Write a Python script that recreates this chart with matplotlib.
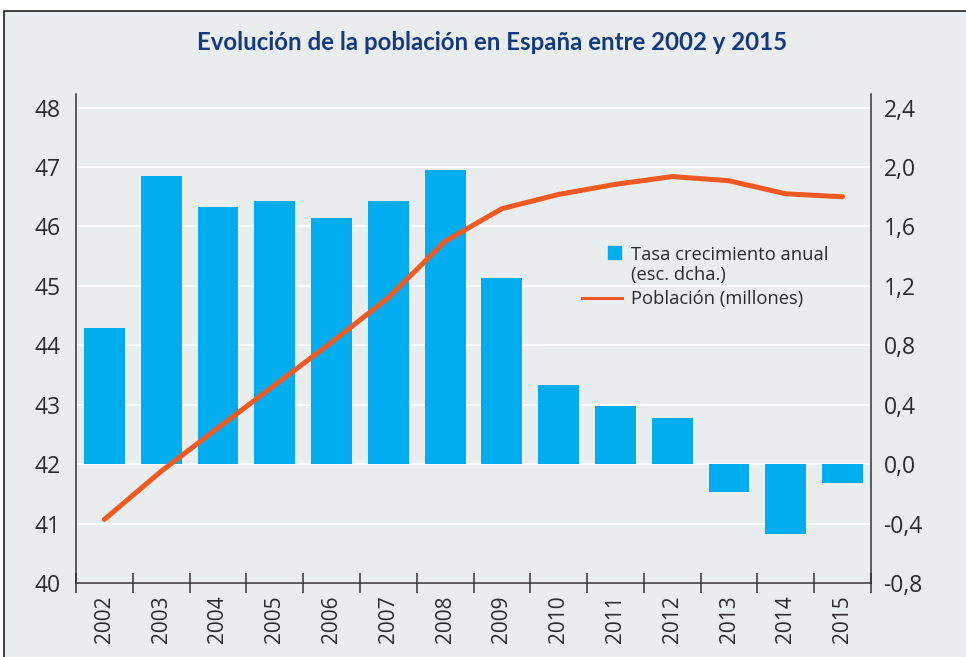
import matplotlib.pyplot as plt
from matplotlib.lines import Line2D
from matplotlib.patches import Patch, Rectangle
from matplotlib.legend_handler import HandlerPatch

# datos
years = ["2002", "2003", "2004", "2005", "2006", "2007", "2008",
         "2009", "2010", "2011", "2012", "2013", "2014", "2015"]
growth = [0.92, 1.94, 1.73, 1.77, 1.66, 1.77, 1.98,
          1.25, 0.53, 0.39, 0.31, -0.19, -0.47, -0.13]   # tasa anual (%)
population = [41.07, 41.88, 42.61, 43.33, 44.05, 44.80, 45.75,
              46.30, 46.54, 46.71, 46.84, 46.77, 46.55, 46.50]  # millones
left_ticks = [40, 41, 42, 43, 44, 45, 46, 47, 48]
right_ticks = [-0.8, -0.4, 0.0, 0.4, 0.8, 1.2, 1.6, 2.0, 2.4]
right_labels = ["-0,8", "-0,4", "0,0", "0,4", "0,8", "1,2", "1,6", "2,0", "2,4"]

BG = "#E9EDEE"
BAR = "#00AEEF"
LINE = "#F05A22"
NAVY = "#163A7E"
TXT = "#2B2B2B"
FONT = "Open Sans"


def square_at_right(legend, orig_handle, xdescent, ydescent, width, height, fontsize):
    # cuadrado al extremo derecho, a la altura de la primera línea del texto
    side = 9.4
    return Rectangle((width - xdescent - side - 0.6,
                      height / 2 - ydescent - side / 2 + 9.0),
                     side, side)


fig = plt.figure(figsize=(9.66, 6.57), dpi=100, facecolor="white")
fig.patches.append(Rectangle((4 / 966, -0.05), 1.2, 1.05 - 11 / 657,
                             transform=fig.transFigure, facecolor=BG,
                             edgecolor="#222222", lw=1.2, zorder=-5))

fig.text(492 / 966, 1 - 42 / 657, "Evolución de la población en España entre 2002 y 2015",
         ha="center", va="center", fontsize=17.3, fontweight="bold",
         color=NAVY, family="Lato")

ax = fig.add_axes([76 / 966, 1 - 583 / 657, 795 / 966, 489 / 657])
ax2 = ax.twinx()
ax.set_zorder(2)
ax2.set_zorder(1)
ax.patch.set_visible(False)
ax2.patch.set_visible(False)

x = list(range(len(years)))

# barras (eje derecho)
ax2.bar(x, growth, width=0.72, color=BAR, zorder=2)
ax2.set_ylim(-0.8, 2.492)
ax2.set_yticks(right_ticks)
ax2.set_yticklabels(right_labels)
ax2.yaxis.grid(True, color="white", lw=1.6)
ax2.set_axisbelow(True)
ax2.tick_params(axis="y", length=0, pad=9, labelsize=16.5, labelcolor=TXT)
for s in ax2.spines.values():
    s.set_visible(False)

# línea (eje izquierdo)
ax.plot(x, population, color=LINE, lw=3.6, solid_capstyle="round",
        solid_joinstyle="round", zorder=3)
ax.set_ylim(40, 48.23)
ax.set_xlim(-0.5, len(years) - 0.5)
ax.set_yticks(left_ticks)
ax.tick_params(axis="y", length=0, pad=11, labelsize=16.5, labelcolor=TXT)

ax.set_xticks(x)
ax.set_xticklabels(years, rotation=90)
ax.set_xticks([i - 0.5 for i in range(len(years) + 1)], minor=True)
ax.tick_params(axis="x", which="major", length=0, pad=9, labelsize=15, labelcolor=TXT)
ax.tick_params(axis="x", which="minor", direction="inout", length=14,
               width=1.1, color="#333333")

ax.spines["top"].set_visible(False)
for side in ("left", "right", "bottom"):
    ax.spines[side].set_color("#333333")
    ax.spines[side].set_linewidth(1.1)

for lab in ax.get_xticklabels() + ax.get_yticklabels() + ax2.get_yticklabels():
    lab.set_family(FONT)

bar_handle = Patch(color=BAR)
handles = [bar_handle, Line2D([], [], color=LINE, lw=2.2)]
leg = ax.legend(handles, ["Tasa crecimiento anual\n(esc. dcha.)", "Población (millones)"],
                loc="upper left", bbox_to_anchor=(0.636, 0.690), frameon=False,
                borderpad=0, borderaxespad=0, handlelength=2.2, handletextpad=0.5,
                labelspacing=0.35, prop={"family": FONT, "size": 13.2},
                handler_map={bar_handle: HandlerPatch(patch_func=square_at_right)})
for t in leg.get_texts():
    t.set_color(TXT)
    t.set_linespacing(1.15)

fig.savefig("out.png", dpi=100, facecolor=fig.get_facecolor())
